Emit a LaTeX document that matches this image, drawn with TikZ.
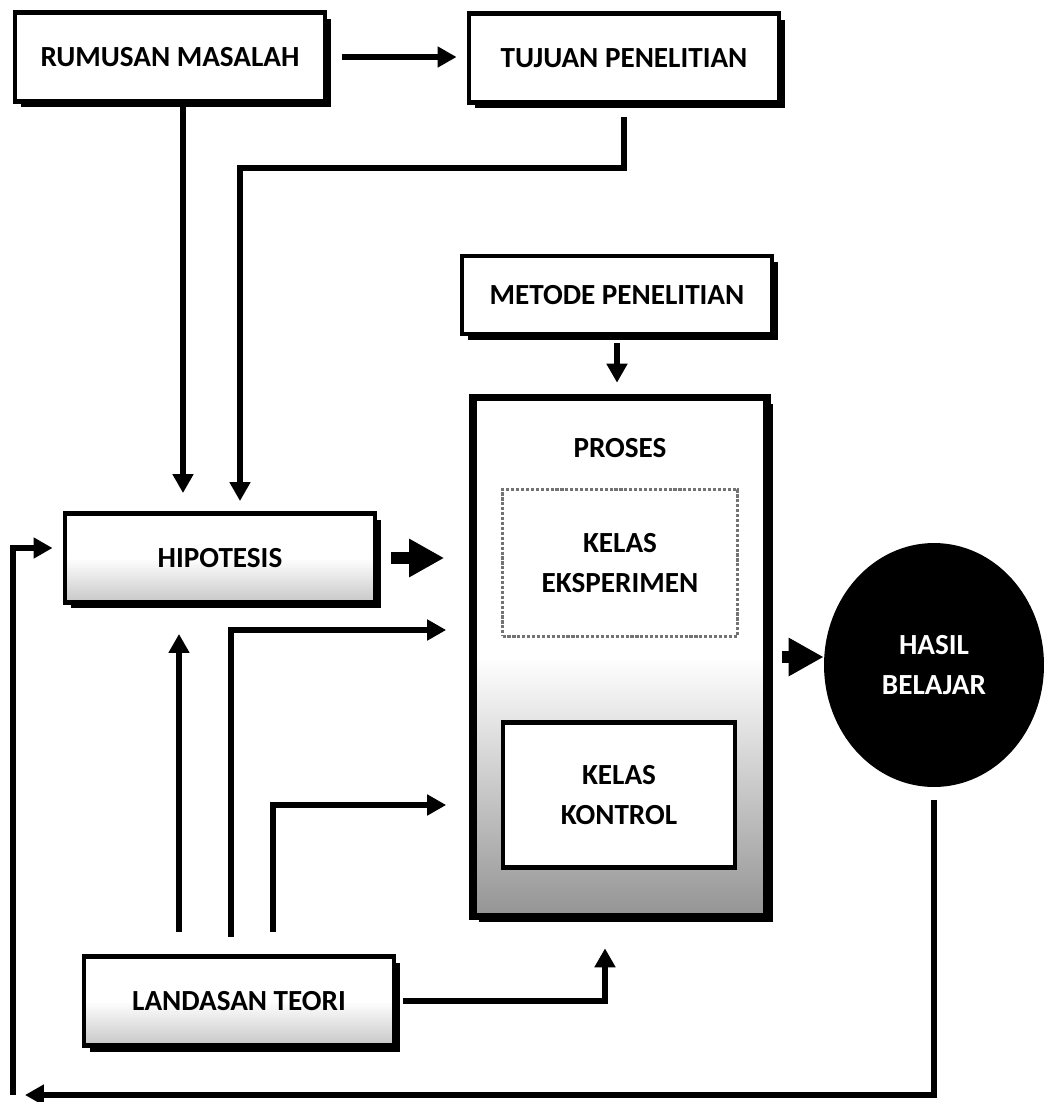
\documentclass[tikz,border=0pt]{standalone}
\usepackage{fontspec}
\setmainfont{Carlito}
\usetikzlibrary{arrows.meta, shadows, shapes.geometric, calc}

\tikzset{
  box/.style={draw, line width=2.8pt, fill=white, minimum width=6.2cm, minimum height=1.78cm,
    drop shadow={shadow xshift=0.12cm, shadow yshift=-0.12cm, fill=black, opacity=1}},
  fade/.style={top color=white, bottom color=black!22, middle color=white},
  arr/.style={line width=3.3pt, -{Triangle[length=0.38cm, width=0.4cm]}},
  bigarr/.style={line width=7pt, -{Triangle[length=0.7cm, width=0.72cm]}},
}

\begin{document}
\begin{tikzpicture}[x=0.02cm, y=-0.02cm,
    every node/.append style={font=\fontsize{16.6}{22.7}\selectfont\bfseries}]
  \useasboundingbox (0,0) rectangle (1045,1102);

  % boxes
  \node[box] (rumusan) at (170,57) {RUMUSAN MASALAH};
  \node[box] (tujuan) at (624,58) {TUJUAN PENELITIAN};
  \node[box, minimum height=1.56cm] (metode) at (617,295) {METODE PENELITIAN};
  \node[box, fade] (hipotesis) at (220,558) {HIPOTESIS};
  \node[box, fade] (landasan) at (239,1001) {LANDASAN TEORI};
  \node[box, line width=4.4pt, minimum width=5.88cm, minimum height=10.38cm,
    top color=white, bottom color=black!42, middle color=white] (proses) at (620,657) {};
  \node (prosestitle) at (620,448) {PROSES};
  \node[draw=black!55, densely dotted, line width=1.8pt, fill=white, minimum width=4.7cm,
    minimum height=2.94cm, align=center] (eksperimen) at (620,563) {KELAS\\EKSPERIMEN};
  \node[draw, line width=2.8pt, fill=white, minimum width=4.64cm, minimum height=2.9cm,
    align=center] (kontrol) at (619,795) {KELAS\\KONTROL};
  \node[ellipse, fill=black, text=white, minimum width=4.4cm, minimum height=4.88cm,
    align=center] (hasil) at (934,665) {HASIL\\BELAJAR};

  % bends
  \coordinate (rmx) at (183,0);
  \coordinate (tbend) at (240,168);
  \coordinate (l1) at (179,0);
  \coordinate (l2) at (231,0);
  \coordinate (l3) at (273,0);
  \coordinate (fb) at (13,1095);

  % connectors
  \draw[arr, shorten <=0.3cm, shorten >=0.2cm] (rumusan.east) -- (rumusan.east -| tujuan.west);
  \draw[arr, shorten >=0.36cm] (rmx |- rumusan.south) -- (rmx |- hipotesis.north);
  \draw[arr, shorten <=0.24cm, shorten >=0.2cm] (tujuan.south) |- (tbend) -- (tbend |- hipotesis.north);
  \draw[bigarr, shorten <=0.28cm, shorten >=0.5cm] (hipotesis.east) -- (hipotesis.east -| proses.west);
  \draw[arr, shorten <=0.44cm, shorten >=0.58cm] (l1 |- landasan.north) -- (l1 |- hipotesis.south);
  \draw[arr, shorten <=0.34cm, shorten >=0.46cm] (l2 |- landasan.north) |- ($(proses.west)+(0,-27)$);
  \draw[arr, shorten <=0.44cm, shorten >=0.46cm] (l3 |- landasan.north) |- ($(proses.west)+(0,148)$);
  \draw[arr, shorten <=0.14cm, shorten >=0.56cm] (landasan.east) -| ($(proses.south)+(-15,0)$);
  \draw[arr, shorten <=0.14cm, shorten >=0.22cm] (metode.south) -- (metode.south |- proses.north);
  \draw[bigarr, shorten <=0.22cm] (proses.east) -- (proses.east -| hasil.west);
  \draw[arr, shorten <=0.26cm, shorten >=0.24cm] (hasil.south) |- (fb);
  \draw[arr, shorten >=0.2cm] (fb) |- ($(hipotesis.west)+(0,-10)$);
\end{tikzpicture}
\end{document}
